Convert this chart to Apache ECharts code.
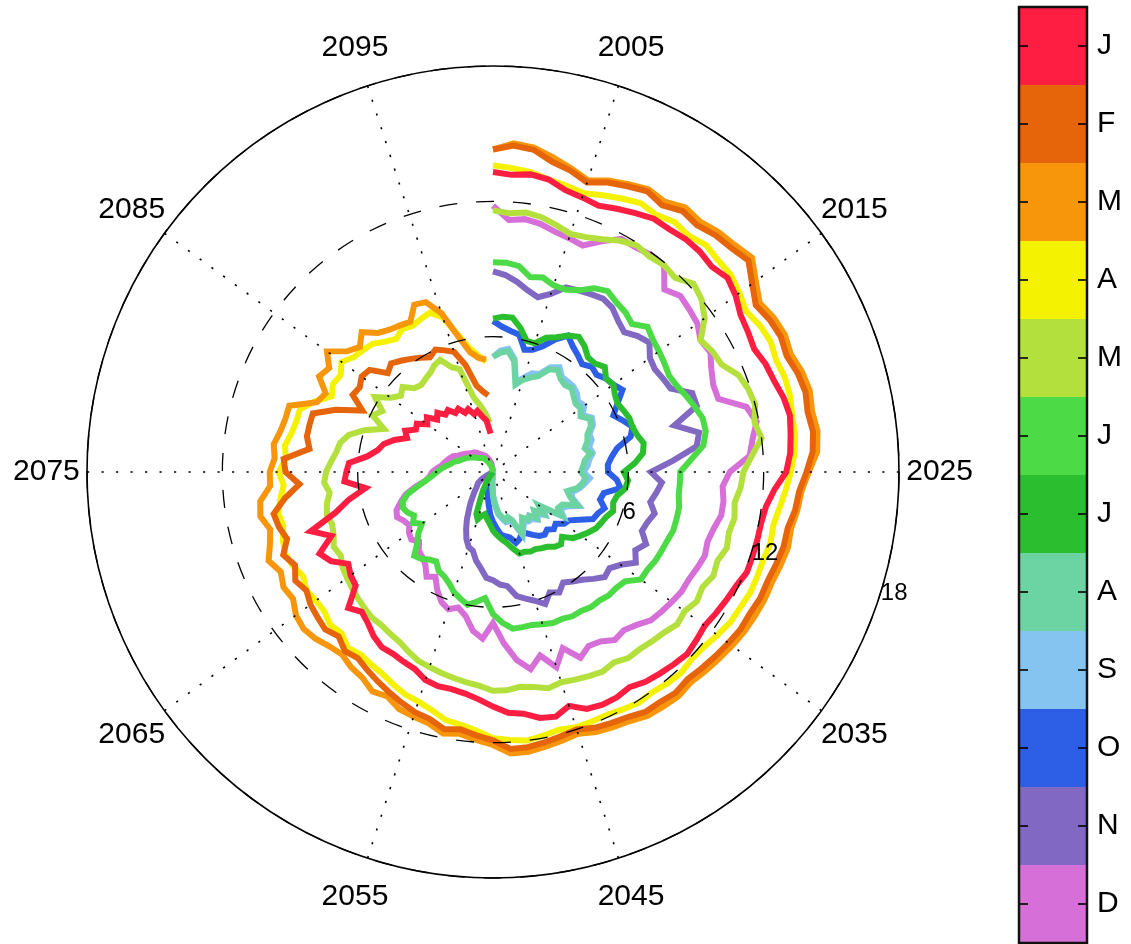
<!DOCTYPE html>
<html>
<head>
<meta charset="utf-8">
<script src="https://cdn.jsdelivr.net/npm/echarts@6/dist/echarts.min.js"></script>
<style>
html,body{margin:0;padding:0;background:#fff;}
#chart{width:1131px;height:944px;}
</style>
</head>
<body>
<div id="chart"></div>
<script>
const months = ['J','F','M','A','M','J','J','A','S','O','N','D'];
const monthColors = ['#FE1E42','#E6650A','#F7960A','#F4F200','#B3E03D','#4CDA46','#2BBF2F','#6CD3A3','#85C3F0','#2D5FE6','#8168C2','#D76FD9'];
const startYear = 2000;
const angleTicks = [2005,2015,2025,2035,2045,2055,2065,2075,2085,2095];
const radialTicks = [6,12,18];
const radialLabelYear = 2029.85;
const angleLabelRadius = 19.8;

const jan = [13.3,13.2,13.3,13.2,12.9,12.8,12.7,12.9,13.1,13.3,
13.3,13.4,13.4,13.3,13.5,13.3,13.0,12.9,12.8,13.0,
13.1,13.3,13.4,13.3,13.2,13.0,12.5,12.2,12.1,12.1,
12.1,12.1,11.9,11.8,11.7,11.6,11.7,11.8,11.7,11.6,
11.5,11.3,11.4,11.4,11.3,10.9,11.2,11.1,10.8,10.7,
10.4,10.1,9.9,9.8,9.8,9.7,9.4,9.3,9.2,9.2,
9.0,8.7,8.5,8.8,7.9,7.8,7.6,8.2,8.5,7.7,
8.5,7.2,6.5,5.7,6.6,6.5,6.4,5.6,5.2,5.0,
4.6,4.1,4.3,3.9,4.0,3.6,3.8,3.4,3.6,3.3,
3.4,3.1,3.2,2.9,3.0,2.7,2.8,2.5,2.3,1.7];
const feb = [14.3,14.5,14.4,14.0,13.8,13.5,13.8,14.0,14.2,14.0,
14.3,14.2,14.4,14.5,14.7,14.2,13.8,14.0,14.1,14.0,
14.2,14.3,14.2,14.3,14.2,13.9,13.6,13.5,13.3,13.3,
13.2,13.1,13.1,13.0,13.0,12.9,12.8,12.7,12.6,12.7,
12.6,12.6,12.4,12.3,12.2,12.0,12.1,12.2,12.3,12.3,
11.9,11.7,11.5,11.6,11.3,11.2,11.0,10.8,10.6,10.4,
10.2,10.3,10.0,10.2,10.1,10.0,9.8,10.0,9.7,10.0,
9.6,9.8,9.9,9.3,8.6,9.2,9.3,8.2,8.4,8.4,
8.4,7.5,6.4,7.1,7.0,7.2,7.1,6.4,6.6,6.4,
6.2,6.0,5.8,6.0,5.8,5.6,4.9,3.9,3.6,3.4];
const mar = [14.3,14.6,14.5,14.2,13.9,13.6,13.9,14.1,14.3,14.2,
14.5,14.4,14.6,14.7,14.9,14.4,14.0,14.2,14.3,14.2,
14.4,14.5,14.4,14.5,14.4,14.0,13.7,13.6,13.45,13.5,
13.4,13.3,13.3,13.25,13.2,13.1,13.0,12.9,12.8,12.9,
12.85,12.8,12.6,12.5,12.4,12.2,12.3,12.4,12.5,12.5,
12.1,11.9,11.7,11.8,11.5,11.4,11.3,11.0,11.1,10.8,
10.7,10.5,10.6,10.8,10.9,10.8,10.5,10.6,10.4,10.7,
10.4,10.2,10.5,10.4,9.9,9.9,9.7,9.8,9.6,9.5,
9.5,8.4,8.2,8.8,8.6,9.1,8.4,8.1,8.5,8.0,
7.8,7.7,7.6,8.2,8.1,7.4,6.2,5.4,5.1,5.0];
const apr = [13.6,13.5,13.4,13.2,13.1,13.0,13.2,13.4,13.6,13.5,
13.7,13.6,13.8,13.7,13.7,13.5,13.3,13.5,13.6,13.5,
13.6,13.6,13.5,13.5,13.4,13.2,13.0,12.8,12.65,12.7,
12.6,12.6,12.6,12.5,12.45,12.3,12.15,12.1,12.2,12.15,
12.05,12.1,12.0,11.9,11.9,11.9,11.8,11.9,12.0,11.9,
11.8,11.5,11.3,11.2,10.9,10.7,10.6,10.4,10.2,10.1,
10.0,10.1,9.8,9.9,9.7,9.7,9.8,9.6,9.8,9.9,
9.8,9.6,9.7,9.5,9.3,9.5,9.2,9.3,9.1,9.0,
9.0,8.5,7.9,8.1,8.0,8.3,8.0,7.9,7.8,7.5,
7.3,7.5,7.4,7.5,7.6,7.2,6.3,5.6,5.2,4.9];
const may = [11.6,11.5,11.6,11.5,11.3,11.1,11.2,11.4,11.7,11.9,
11.8,11.9,11.8,12.2,12.0,11.6,10.9,11.1,11.2,11.7,
11.9,12.0,11.8,12.0,11.5,11.1,11.0,10.8,10.9,10.8,
10.9,10.7,10.8,10.6,10.7,10.5,10.6,10.4,10.3,10.2,
10.2,10.0,10.1,10.0,9.9,9.8,9.9,9.7,9.6,9.7,
9.7,9.5,9.4,9.3,9.2,9.1,9.0,8.8,8.6,8.5,
8.4,8.4,8.3,8.2,8.1,8.0,7.9,7.7,7.8,7.6,
7.5,7.6,7.5,7.3,7.5,7.4,7.2,7.0,6.9,6.6,
6.0,5.2,5.9,5.6,6.2,5.6,5.3,5.5,5.1,5.0,
5.1,5.2,5.4,5.5,5.0,4.8,3.4,3.0,2.6,2.2];
const jun = [9.3,9.3,9.2,8.8,8.9,8.7,8.7,8.9,9.3,9.5,
9.3,9.2,9.0,9.4,9.2,9.1,9.0,8.9,9.0,9.2,
9.4,9.6,9.6,9.4,8.8,8.3,8.3,8.3,8.4,8.4,
8.4,8.3,8.25,8.2,8.1,8.1,7.6,7.5,7.5,7.4,
7.4,7.3,7.3,7.2,7.2,7.1,7.0,7.0,7.0,6.7,
6.3,5.6,5.8,6.0,5.8,5.6,5.3,5.1,5.0,4.7,
4.8,5.0,5.1,4.6,4.3,3.9,4.2,4.0,4.2,4.3,
4.2,3.9,3.4,3.0,2.7,2.5,2.3,2.1,1.9,1.8,
1.6,1.5,1.4,1.3,1.2,1.1,1.0,0.9,0.9,0.8,
0.8,0.7,0.6,0.5,0.4,0.3,0.2,0.1,0.0];
const jul = [6.8,6.9,6.9,6.5,6.0,6.0,6.4,6.6,6.9,7.1,
6.9,6.6,6.6,6.8,6.5,6.6,6.4,6.3,6.4,6.5,
6.5,6.6,6.8,6.7,6.3,5.8,6.0,5.9,5.6,5.5,
5.6,5.4,5.3,5.2,5.0,4.8,4.6,4.2,4.4,4.3,
4.1,4.0,3.9,3.9,3.8,3.8,3.5,3.2,3.0,2.8,
2.6,2.3,2.1,1.9,2.0,2.2,2.0,1.3,0.9,0.5,
0.2,0.0];
const aug = [5.1,5.3,5.4,5.0,4.0,4.3,4.5,4.7,5.2,5.35,
5.1,5.0,5.1,4.9,4.75,4.8,4.6,4.9,4.8,4.5,
4.4,4.2,4.4,4.1,4.0,3.9,4.1,4.0,3.8,3.4,
3.6,4.0,3.4,3.3,3.6,2.5,2.9,2.5,2.8,2.5,
2.6,2.4,2.7,3.0,2.3,2.1,2.2,2.0,1.8,1.4,
1.0,0.4,0.0];
const sep = [5.1,5.4,5.5,5.1,4.1,4.4,4.7,4.8,5.3,5.5,
5.2,5.2,5.2,5.1,4.9,5.0,4.7,5.0,4.9,4.6,
4.6,4.4,4.5,4.3,4.2,4.0,4.3,4.1,3.9,3.6,
3.7,4.1,3.6,3.4,3.7,2.7,3.0,2.7,2.9,2.7,
2.7,2.6,2.8,3.1,2.4,2.3,2.3,2.1,1.9,1.5,
1.1,0.5,0.0];
const oct = [6.7,6.45,6.3,6.2,5.6,5.7,6.0,6.5,6.9,6.6,
6.4,6.2,6.4,6.3,6.5,6.6,6.8,6.3,5.9,6.2,
6.5,6.3,5.6,5.3,5.1,5.1,5.5,5.7,5.0,4.9,
5.2,5.0,4.9,4.4,4.0,3.9,3.6,3.7,3.5,3.6,
3.5,3.3,3.1,3.0,3.2,3.3,3.0,2.9,2.8,2.5,
2.2,1.9,1.5,1.2,0.9,0.6,0.3,0.0];
const nov = [8.9,8.75,8.5,8.2,8.0,8.3,8.8,8.9,9.0,9.1,
9.0,8.7,8.5,8.8,9.0,8.6,8.5,8.6,8.7,9.5,
9.5,8.3,9.3,9.1,8.0,7.0,7.5,7.3,7.1,7.4,
7.2,7.1,7.5,7.2,7.5,7.0,6.7,6.8,6.5,6.2,
6.0,5.8,6.1,5.9,6.3,6.0,5.8,5.6,5.1,5.0,
4.8,4.7,4.3,4.0,3.6,3.5,3.2,2.8,2.4,2.0,
1.7,1.4,1.2,1.0,0.9,0.8,0.6,0.3,0.0];
const dec = [11.8,11.2,11.3,11.2,11.0,10.9,10.8,11.3,11.8,11.8,
11.9,11.9,11.1,11.4,11.3,11.2,10.9,11.0,10.7,10.5,
10.5,11.6,11.9,11.6,11.4,10.5,10.2,10.3,10.3,10.1,
10.0,10.1,10.0,9.9,9.9,9.8,9.7,9.6,9.3,9.1,
9.2,8.9,8.8,9.1,8.4,9.1,8.4,8.9,8.4,7.6,
6.7,7.4,7.1,6.5,6.2,6.4,6.2,5.8,5.3,5.5,
5.1,4.9,4.8,4.5,4.7,4.6,4.4,4.5,4.7,4.6,
4.3,4.0,3.5,3.0,2.8,2.7,2.5,2.3,2.2,2.1,
2.0,1.9,1.7,1.6,1.5,1.4,1.3,1.3,1.2,1.1,
1.0,0.9,0.9,0.8,0.7,0.6,0.5,0.4,0.2,0.0];

const monthData = [jan,feb,mar,apr,may,jun,jul,aug,sep,oct,nov,dec];
const FONT = "'Liberation Sans', Arial, Helvetica, sans-serif";
const CX = 493, CY = 472, R = 406;

const series = [];
for (let i = monthData.length - 1; i >= 0; i--) {
  series.push({
    type: 'line',
    name: months[i] + i,
    coordinateSystem: 'polar',
    polarIndex: 0,
    data: monthData[i].map((v, k) => [v, startYear + k]),
    symbol: 'none',
    smooth: false,
    clip: false,
    silent: true,
    lineStyle: { color: monthColors[i], width: 6, join: 'miter', cap: 'butt', opacity: 1 },
    itemStyle: { color: monthColors[i] },
    z: 2
  });
}
// angle labels
series.push({
  type: 'scatter', coordinateSystem: 'polar', polarIndex: 0, clip: false, silent: true,
  symbolSize: 1, itemStyle: { color: 'rgba(0,0,0,0)', opacity: 1 },
  data: angleTicks.map(y => [angleLabelRadius, y]),
  label: { show: true, position: 'inside', formatter: p => String(p.value[1]),
           fontSize: 30, color: '#000', opacity: 1, textBorderWidth: 0, fontFamily: FONT },
  z: 6
});
// radial labels
series.push({
  type: 'scatter', coordinateSystem: 'polar', polarIndex: 0, clip: false, silent: true,
  symbolSize: 1, itemStyle: { color: 'rgba(0,0,0,0)', opacity: 1 },
  data: radialTicks.map(r => [r, radialLabelYear]),
  label: { show: true, position: 'right', distance: 0, formatter: p => String(p.value[0]),
           fontSize: 24, color: '#000', opacity: 1, textBorderWidth: 0, fontFamily: FONT },
  z: 6
});
// colorbar
series.push({
  type: 'bar', xAxisIndex: 0, yAxisIndex: 0, silent: true,
  data: monthColors.map(c => ({ value: 1, itemStyle: { color: c } })),
  barWidth: '100%', barCategoryGap: '0%', z: 1
});
// colorbar ticks on the inner left and inner right edges
series.push({
  type: 'scatter', xAxisIndex: 0, yAxisIndex: 0, silent: true, clip: false,
  symbol: 'rect', symbolSize: [9, 1.6], symbolOffset: [4.5, 0],
  itemStyle: { color: '#000', opacity: 1 },
  data: months.map((m, i) => [0, i]), z: 5, zlevel: 1
});
series.push({
  type: 'scatter', xAxisIndex: 0, yAxisIndex: 0, silent: true, clip: false,
  symbol: 'rect', symbolSize: [9, 1.6], symbolOffset: [-4.5, 0],
  itemStyle: { color: '#000', opacity: 1 },
  data: months.map((m, i) => [1, i]), z: 5, zlevel: 1
});

const option = {
  animation: false,
  backgroundColor: '#fff',
  textStyle: { fontFamily: FONT },
  polar: [
    { center: [CX, CY], radius: R },
    { center: [CX, CY], radius: R }
  ],
  angleAxis: [
    { polarIndex: 0, type: 'value', min: 2000, max: 2100, startAngle: 90, clockwise: true, show: false },
    { polarIndex: 1, type: 'value', min: 2005, max: 2105, interval: 10, startAngle: 72, clockwise: true, zlevel: 1, z: 5,
      axisLine: { show: true, lineStyle: { color: '#000', width: 1.6 } },
      axisTick: { show: false },
      axisLabel: { show: false },
      splitLine: { show: true, lineStyle: { color: '#000', width: 1.6, type: [2.2, 12.3] } } }
  ],
  radiusAxis: [
    { polarIndex: 0, type: 'value', min: 0, max: 18, show: false },
    { polarIndex: 1, type: 'value', min: 0, max: 18, interval: 6, zlevel: 1, z: 5,
      axisLine: { show: false }, axisTick: { show: false }, axisLabel: { show: false },
      splitLine: { show: true, lineStyle: { color: '#000', width: 1.3, type: [18, 19] } } }
  ],
  grid: [{ left: 1019, top: 7, width: 68, height: 936, show: true, borderColor: '#111', borderWidth: 2.5, backgroundColor: 'transparent', zlevel: 1 }],
  xAxis: [{ gridIndex: 0, type: 'value', min: 0, max: 1, show: false }],
  yAxis: [
    { gridIndex: 0, type: 'category', data: months.map((m, i) => String(i)), inverse: true, position: 'right',
      axisLine: { show: false },
      axisTick: { show: false },
      axisLabel: { show: true, formatter: v => months[+v], fontSize: 30, color: '#000', margin: 10, fontFamily: FONT },
      splitLine: { show: false } }
  ],
  series: series
};

const chart = echarts.init(document.getElementById('chart'), null, { renderer: 'canvas', width: 1131, height: 944 });
chart.setOption(option);
</script>
</body>
</html>
